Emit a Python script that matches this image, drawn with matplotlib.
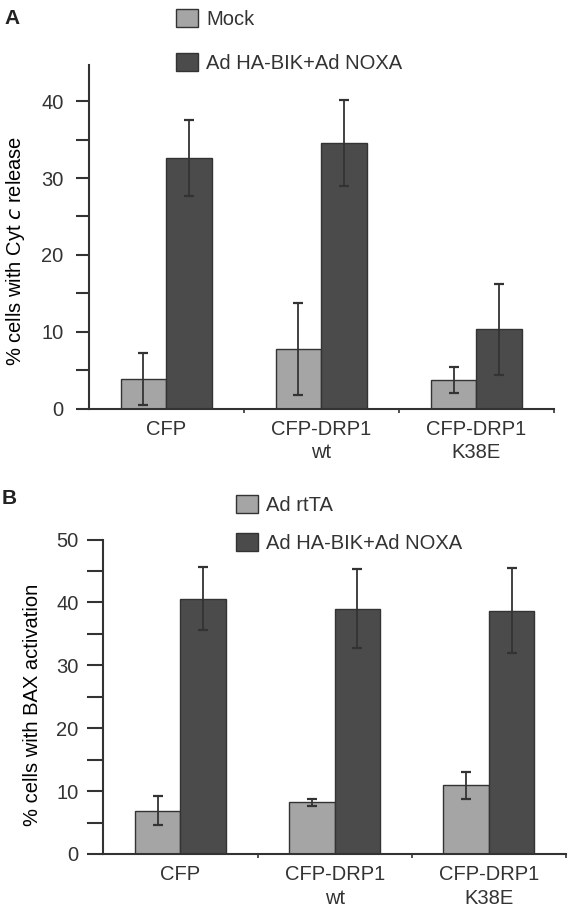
import numpy as np
import matplotlib
matplotlib.use('Agg')
import matplotlib.pyplot as plt

#the data
categories = ['CFP', 'CFP-DRP1\nwt', 'CFP-DRP1\nK38E']

#panel A, cytochrome c release
mockA = [3.9, 7.8, 3.7]
mockA_err = [3.4, 6.0, 1.7]
noxaA = [32.6, 34.5, 10.3]
noxaA_err = [5.0, 5.6, 5.9]

#panel B, BAX activation
rttaB = [6.9, 8.2, 10.9]
rttaB_err = [2.3, 0.6, 2.2]
noxaB = [40.6, 39.0, 38.7]
noxaB_err = [5.0, 6.3, 6.8]

light = '#a5a5a5'
dark = '#4b4b4b'
ink = '#333333'

plt.rcParams['font.family'] = ['Liberation Sans', 'DejaVu Sans']
plt.rcParams['font.size'] = 14.5
plt.rcParams['text.color'] = ink
plt.rcParams['axes.edgecolor'] = ink
plt.rcParams['xtick.color'] = ink
plt.rcParams['ytick.color'] = ink
plt.rcParams['xtick.labelcolor'] = ink
plt.rcParams['ytick.labelcolor'] = ink

fig = plt.figure(figsize=(5.68, 9.08), dpi=100)


#this draws one panel with two bars per category
def panel(rect, low, low_err, high, high_err, ylim, ylabel, label_y,
          tick_len, tick_pad):
    ax = fig.add_axes(rect)
    ind = np.arange(len(categories))
    width = 0.295

    b1 = ax.bar(ind - width / 2, low, width, color=light, edgecolor=ink,
                linewidth=1.0, zorder=2)
    b2 = ax.bar(ind + width / 2, high, width, color=dark, edgecolor=ink,
                linewidth=1.0, zorder=2)
    ax.errorbar(ind - width / 2, low, yerr=low_err, fmt='none', ecolor=ink,
                elinewidth=1.3, capsize=3.4, capthick=1.6, zorder=3)
    ax.errorbar(ind + width / 2, high, yerr=high_err, fmt='none', ecolor=ink,
                elinewidth=1.3, capsize=3.4, capthick=1.6, zorder=3)

    ax.set_xlim(-0.5, len(categories) - 0.5)
    ax.set_ylim(*ylim)

    #only left and bottom lines
    ax.spines['top'].set_visible(False)
    ax.spines['right'].set_visible(False)
    ax.spines['left'].set_linewidth(1.5)
    ax.spines['bottom'].set_linewidth(1.5)

    #y ticks every 5, labels every 10
    yt = np.arange(0, ylim[1] + 0.01, 5)
    ax.set_yticks(yt)
    ax.set_yticklabels([('%d' % v) if v % 10 == 0 else '' for v in yt])
    ax.tick_params(axis='y', length=tick_len, width=1.5, pad=tick_pad)

    #short ticks between the groups, labels in the middle
    ax.set_xticks(ind + 0.5)
    ax.set_xticklabels([])
    ax.tick_params(axis='x', which='major', length=3, width=1.2)
    ax.set_xticks(ind, minor=True)
    ax.set_xticklabels(categories, minor=True, linespacing=1.3)
    ax.tick_params(axis='x', which='minor', length=0, pad=8)

    ax.set_ylabel(ylabel)
    ax.yaxis.set_label_coords(-0.132, label_y)
    return ax, b1, b2


axA, a1, a2 = panel([0.1562, 0.5499, 0.8192, 0.3785], mockA, mockA_err,
                    noxaA, noxaA_err, (0, 44.7),
                    '% cells with Cyt $\\it{c}$ release', 0.459, 9.1, 9)
axB, c1, c2 = panel([0.1819, 0.0595, 0.8146, 0.3463], rttaB, rttaB_err,
                    noxaB, noxaB_err, (0, 50),
                    '% cells with BAX activation', 0.474, 11.8, 6)

#legends sit above the plots
fig.legend([a1, a2], ['Mock', 'Ad HA-BIK+Ad NOXA'], loc='upper left',
           bbox_to_anchor=(176 / 568, 1 - 9 / 908), frameon=False,
           borderpad=0, borderaxespad=0, handlelength=1.1, handleheight=1.0,
           handletextpad=0.4, labelspacing=1.2)
fig.legend([c1, c2], ['Ad rtTA', 'Ad HA-BIK+Ad NOXA'], loc='upper left',
           bbox_to_anchor=(236 / 568, 1 - 495 / 908), frameon=False,
           borderpad=0, borderaxespad=0, handlelength=1.1, handleheight=1.0,
           handletextpad=0.4, labelspacing=0.9)

#panel letters
fig.text(4 / 568, 1 - 18 / 908, 'A', fontsize=15, fontweight='bold',
         va='center', ha='left', color='#222222')
fig.text(2 / 568, 1 - 499 / 908, 'B', fontsize=15, fontweight='bold',
         va='center', ha='left', color='#222222')

plt.savefig('out.png', dpi=100)
